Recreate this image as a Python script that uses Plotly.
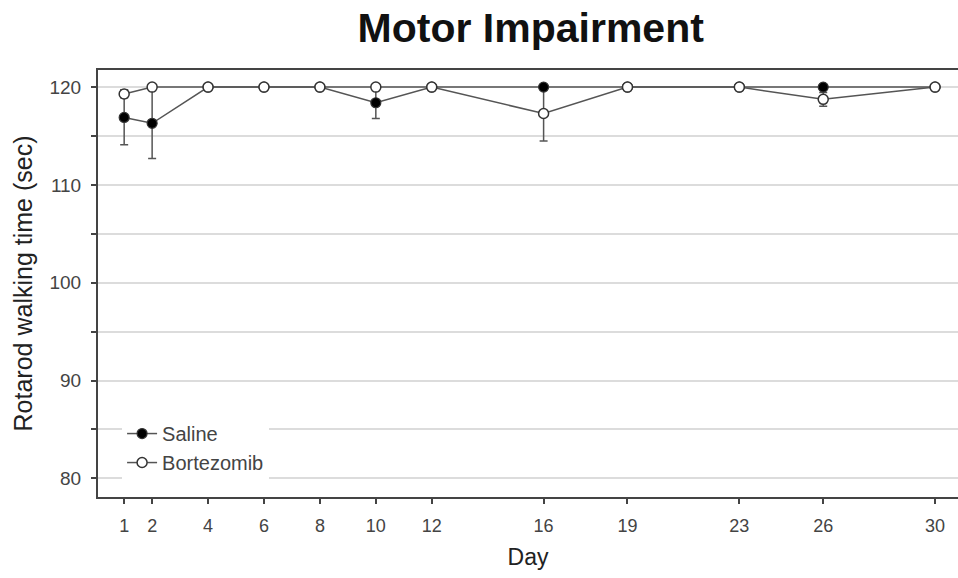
import plotly.graph_objects as go

days = [1, 2, 4, 6, 8, 10, 12, 16, 19, 23, 26, 30]
saline = [116.9, 116.3, 120, 120, 120, 118.4, 120, 120, 120, 120, 120, 120]
saline_err = [2.8, 3.6, 0, 0, 0, 1.6, 0, 0, 0, 0, 0, 0]
bortezomib = [119.3, 120, 120, 120, 120, 120, 120, 117.3, 120, 120, 118.75, 120]
bortezomib_err = [0.4, 0, 0, 0, 0, 0, 0, 2.8, 0, 0, 0.7, 0]
y_ticks = [80, 85, 90, 95, 100, 105, 110, 115, 120]
y_ticktext = ["80", "", "90", "", "100", "", "110", "", "120"]

FONT = "Liberation Sans, Arial, sans-serif"
LINE = "#555555"

fig = go.Figure()

# error bars first (under all markers)
for yv, ev in [(saline, saline_err), (bortezomib, bortezomib_err)]:
    fig.add_trace(go.Scatter(
        x=days, y=yv, mode="markers",
        marker=dict(size=1, opacity=0),
        error_y=dict(type="data", array=ev, visible=True,
                     color=LINE, thickness=1.5, width=4),
        showlegend=False, hoverinfo="skip"))

fig.add_trace(go.Scatter(
    x=days, y=saline, mode="lines+markers", name="Saline",
    line=dict(color=LINE, width=1.5),
    marker=dict(symbol="circle", size=10, color="black",
                line=dict(color="#333333", width=1.2))))
fig.add_trace(go.Scatter(
    x=days, y=bortezomib, mode="lines+markers", name="Bortezomib",
    line=dict(color=LINE, width=1.5),
    marker=dict(symbol="circle", size=10, color="white",
                line=dict(color="#333333", width=1.5))))

fig.update_layout(
    width=958, height=578,
    margin=dict(l=98, r=0, t=70, b=81),
    paper_bgcolor="white", plot_bgcolor="white",
    font=dict(family=FONT, color="#333333"),
    title=dict(text="<b>Motor Impairment</b>", x=0.554, xanchor="center",
               y=0.952, yanchor="middle",
               font=dict(family=FONT, size=41, color="#111111")),
    showlegend=True,
    legend=dict(x=0.028, y=0.035, xanchor="left", yanchor="bottom",
                bgcolor="white", borderwidth=0,
                font=dict(family=FONT, size=20, color="#444444"),
                tracegroupgap=0, itemsizing="trace"),
    xaxis=dict(
        range=[0.064, 30.82], tickvals=days,
        ticks="outside", ticklen=5, tickwidth=1.5, tickcolor="#444444",
        showline=True, linecolor="#444444", linewidth=2, mirror=True,
        showgrid=False, zeroline=False, ticklabelstandoff=6,
        tickfont=dict(family=FONT, size=18, color="#444444"),
        title=dict(text="Day", font=dict(family=FONT, size=23, color="#222222"),
                   standoff=14)),
    yaxis=dict(
        range=[78.09, 121.75], tickvals=y_ticks, ticktext=y_ticktext,
        ticks="outside", ticklen=5, tickwidth=1.5, tickcolor="#444444",
        showline=True, linecolor="#444444", linewidth=2,
        showgrid=True, gridcolor="#dcdcdc", gridwidth=1.5, zeroline=False,
        ticklabelstandoff=6,
        tickfont=dict(family=FONT, size=19, color="#444444"),
        title=dict(text="Rotarod walking time (sec)",
                   font=dict(family=FONT, size=25, color="#222222"),
                   standoff=10)),
)

fig.write_html("out.html")
